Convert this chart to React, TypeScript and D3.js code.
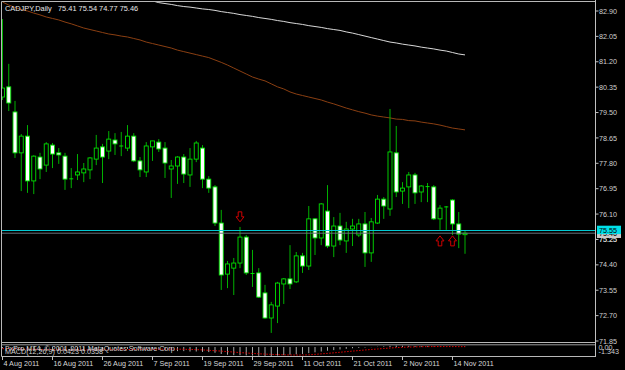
import React, { useEffect } from 'react';
import * as d3 from 'd3';

// ---------- data ----------
const symbolTitle = 'CADJPY,Daily';
const lastBar = '75.41 75.54 74.77 75.46';

const opens = [80.02, 80.36, 79.52, 78.15, 78.71, 77.21, 78.01, 77.74, 78.41, 78.15, 78.04, 77.27, 77.41, 77.48, 77.58, 77.94, 78.35, 78.21, 78.58, 78.38, 78.31, 78.71, 77.88, 77.51, 78.35, 78.51, 78.31, 77.61, 77.71, 78.01, 77.41, 77.94, 78.31, 77.27, 77.01, 75.80, 74.09, 74.29, 74.46, 75.33, 74.11, 74.13, 73.46, 72.62, 73.02, 73.76, 73.93, 73.83, 74.70, 74.36, 75.94, 75.30, 76.20, 75.03, 75.70, 75.20, 75.60, 75.40, 75.77, 74.80, 75.80, 76.60, 76.27, 78.15, 76.87, 77.01, 77.41, 76.84, 77.01, 77.01, 75.94, 76.30, 76.57, 75.77, 75.41];
const highs = [82.63, 81.13, 79.89, 78.78, 79.08, 78.07, 78.15, 78.51, 78.48, 78.31, 78.15, 77.64, 78.11, 77.81, 78.01, 78.75, 78.45, 78.88, 78.81, 78.85, 79.08, 78.81, 78.01, 78.51, 78.55, 78.61, 78.51, 77.91, 78.04, 78.11, 78.31, 78.55, 78.41, 77.37, 77.07, 76.24, 74.53, 74.63, 75.67, 75.40, 74.90, 74.29, 73.73, 73.16, 73.83, 73.96, 75.06, 74.83, 74.80, 76.37, 75.97, 76.47, 77.07, 76.00, 76.14, 75.84, 75.94, 75.94, 76.17, 75.97, 76.74, 76.67, 79.62, 79.05, 77.17, 77.51, 77.48, 77.07, 77.14, 77.07, 76.40, 76.37, 76.60, 76.17, 75.54];
const lows = [79.92, 79.55, 77.98, 76.87, 76.81, 76.77, 77.27, 77.51, 77.64, 77.78, 76.91, 76.97, 77.24, 77.17, 77.27, 77.74, 77.14, 77.94, 78.08, 78.04, 78.21, 77.84, 77.34, 77.34, 77.88, 78.18, 77.31, 76.64, 77.11, 77.14, 77.01, 77.84, 76.97, 76.81, 75.70, 73.56, 73.62, 73.39, 74.29, 74.06, 73.66, 73.29, 72.59, 72.12, 72.45, 73.09, 73.59, 73.79, 74.13, 74.23, 74.73, 75.06, 74.96, 74.66, 75.06, 74.80, 75.03, 75.33, 74.33, 74.50, 75.77, 75.94, 76.04, 76.67, 76.44, 76.30, 76.44, 76.50, 76.50, 75.90, 75.57, 75.57, 75.40, 74.96, 74.77];
const closes = [80.32, 79.82, 78.15, 78.71, 77.21, 78.04, 77.61, 78.45, 78.11, 78.08, 77.27, 77.28, 77.51, 77.61, 77.98, 78.31, 78.01, 78.61, 78.45, 78.38, 78.71, 77.88, 77.58, 78.38, 78.55, 78.28, 77.81, 77.71, 78.01, 77.44, 77.94, 78.48, 77.27, 76.97, 75.80, 74.06, 74.43, 74.46, 75.33, 74.13, 74.09, 73.32, 72.62, 73.06, 73.79, 73.93, 73.76, 74.70, 74.36, 75.94, 75.30, 76.44, 75.03, 75.70, 75.23, 75.60, 75.70, 75.77, 74.80, 75.84, 76.60, 76.37, 78.18, 76.84, 76.97, 77.41, 76.81, 77.04, 77.02, 75.94, 76.30, 76.34, 75.77, 75.43, 75.46];

// brown moving average, one value per bar
const maBrown = [83.20, 83.10, 83.02, 82.95, 82.90, 82.83, 82.77, 82.70, 82.65, 82.60, 82.53, 82.47, 82.40, 82.33, 82.28, 82.23, 82.18, 82.13, 82.10, 82.06, 82.03, 81.98, 81.93, 81.86, 81.81, 81.76, 81.71, 81.66, 81.59, 81.54, 81.49, 81.44, 81.39, 81.34, 81.26, 81.18, 81.09, 80.99, 80.89, 80.79, 80.69, 80.62, 80.56, 80.46, 80.36, 80.29, 80.19, 80.12, 80.07, 80.02, 79.97, 79.92, 79.85, 79.79, 79.72, 79.65, 79.59, 79.53, 79.48, 79.42, 79.38, 79.35, 79.32, 79.28, 79.27, 79.23, 79.22, 79.18, 79.15, 79.12, 79.08, 79.03, 78.98, 78.95, 78.92];
// white moving average, from bar 24 on (earlier part is above the window)
const maWhiteStart = 24;
const maWhite = [83.24, 83.18, 83.15, 83.12, 83.08, 83.05, 83.03, 83.00, 82.97, 82.95, 82.92, 82.88, 82.85, 82.82, 82.78, 82.75, 82.72, 82.68, 82.65, 82.62, 82.58, 82.55, 82.51, 82.48, 82.45, 82.41, 82.38, 82.35, 82.31, 82.28, 82.25, 82.20, 82.16, 82.11, 82.06, 82.01, 81.96, 81.91, 81.86, 81.83, 81.79, 81.76, 81.73, 81.69, 81.66, 81.63, 81.59, 81.56, 81.51, 81.46, 81.43];

const macdMain = [-0.15, -0.2, -0.3, -0.4, -0.45, -0.5, -0.5, -0.5, -0.48, -0.46, -0.45, -0.44, -0.42, -0.4, -0.38, -0.35, -0.32, -0.3, -0.28, -0.26, -0.24, -0.22, -0.22, -0.22, -0.3, -0.35, -0.4, -0.45, -0.5, -0.5, -0.55, -0.55, -0.6, -0.62, -0.7, -0.85, -0.95, -1.0, -1.0, -1.02, -1.05, -1.08, -1.1, -1.1, -1.05, -1.0, -0.95, -0.9, -0.85, -0.75, -0.65, -0.55, -0.45, -0.38, -0.3, -0.22, -0.15, -0.1, -0.06, -0.02, 0.03, 0.08, 0.15, 0.18, 0.16, 0.15, 0.12, 0.1, 0.08, 0.05, 0.04, 0.03, 0.04, 0.03, 0.04];
const macdSignal = [-0.2, -0.2, -0.22, -0.24, -0.26, -0.28, -0.3, -0.32, -0.33, -0.34, -0.35, -0.35, -0.35, -0.35, -0.35, -0.34, -0.34, -0.33, -0.33, -0.32, -0.31, -0.3, -0.29, -0.28, -0.27, -0.27, -0.26, -0.26, -0.26, -0.27, -0.3, -0.32, -0.35, -0.4, -0.45, -0.5, -0.56, -0.62, -0.68, -0.73, -0.78, -0.83, -0.87, -0.9, -0.93, -0.95, -0.97, -0.98, -0.98, -0.95, -0.9, -0.84, -0.78, -0.71, -0.64, -0.57, -0.5, -0.43, -0.36, -0.3, -0.24, -0.18, -0.12, -0.07, -0.03, 0, 0.02, 0.04, 0.05, 0.06, 0.06, 0.06, 0.06, 0.05, 0.05];

const priceTicks = [82.90, 82.05, 81.20, 80.35, 79.50, 78.65, 77.80, 76.95, 76.10, 75.25, 74.40, 73.55, 72.70, 71.85];
const dateLabels = ['4 Aug 2011', '16 Aug 2011', '26 Aug 2011', '7 Sep 2011', '19 Sep 2011', '29 Sep 2011', '11 Oct 2011', '21 Oct 2011', '2 Nov 2011', '14 Nov 2011'];
const dateLabelBars = [0, 8, 16, 24, 32, 40, 48, 56, 64, 72];

const hLinePrice = 75.55;
const bidPrice = 75.46;

const arrowBars = [38, 70, 72];
const arrowDirs = ['down', 'up', 'up'];
const arrowTipPrices = [75.84, 75.37, 75.37];

const copyrightText = 'FxPro MT4, \u00A9 2001-2011 MetaQuotes Software Corp';
const macdText = 'MACD(12,26,9) 0.0423 0.0358';
const subLabels = ['0.00', '-1.343'];

// ---------- layout ----------
const W = 625;
const H = 370;
const FONT = '"Liberation Sans", Arial, sans-serif';
const FS = 7.2;

export default function App() {
  useEffect(() => {
    document.body.style.margin = '0';
    document.body.style.background = '#000';
  }, []);

  const n = opens.length;
  const x = d3.scaleLinear().domain([0, n - 1]).range([2.5, 2.5 + 6.25 * (n - 1)]);
  const y = d3.scaleLinear().domain([71.85, 82.9]).range([341, 11]);
  const ySub = d3.scaleLinear().domain([-1.1, 0.25]).range([356, 345]);

  const brownLine = d3.line<number>().x((_, i) => x(i)).y((d) => y(d))(maBrown) || '';
  const whiteLine = d3.line<number>().x((_, i) => x(i + maWhiteStart)).y((d) => y(d))(maWhite) || '';
  const signalLine = d3.line<number>().x((_, i) => x(i)).y((d) => ySub(d))(macdSignal) || '';

  const axisX = 595.5;
  const bodyW = 4;

  const arrowPath = (dir: string) =>
    dir === 'down'
      ? 'M-1.8,-5 L-1.8,-10 L1.8,-10 L1.8,-5 L4,-5 L0,0 L-4,-5 Z'
      : 'M-1.8,5 L-1.8,10 L1.8,10 L1.8,5 L4,5 L0,0 L-4,5 Z';

  return (
    <svg width={W} height={H} style={{ position: 'fixed', left: 0, top: 0, background: '#000', display: 'block' }}>
      <defs>
        <clipPath id="mainClip">
          <rect x={1.5} y={2} width={axisX - 1.5} height={340.5} />
        </clipPath>
        <clipPath id="subClip">
          <rect x={2} y={345} width={axisX - 2} height={11.5} />
        </clipPath>
      </defs>
      <rect x={0} y={0} width={W} height={H} fill="#000" />

      {/* main window */}
      <g clipPath="url(#mainClip)">
        <path d={brownLine} fill="none" stroke="#8a3f12" strokeWidth={1} />
        <path d={whiteLine} fill="none" stroke="#d8d8d8" strokeWidth={1} />
        {opens.map((o, i) => {
          const c = closes[i];
          const cx = x(i);
          const top = y(Math.max(o, c));
          const bot = y(Math.min(o, c));
          const bear = c < o;
          const h = bot - top;
          return (
            <g key={i}>
              <line x1={cx} x2={cx} y1={y(highs[i])} y2={y(lows[i])} stroke="#00b000" strokeWidth={1} />
              {h < 1.2 ? (
                <line x1={cx - bodyW / 2} x2={cx + bodyW / 2} y1={top} y2={top} stroke="#00e000" strokeWidth={1} />
              ) : (
                <rect x={cx - bodyW / 2} y={top} width={bodyW} height={h} fill={bear ? '#ffffff' : '#000000'} stroke="#00e000" strokeWidth={0.9} />
              )}
            </g>
          );
        })}
        <line x1={2} x2={axisX} y1={y(bidPrice)} y2={y(bidPrice)} stroke="#66707a" strokeWidth={1} />
        <line x1={2} x2={axisX} y1={y(hLinePrice)} y2={y(hLinePrice)} stroke="#00c8d2" strokeWidth={1} />
        {arrowBars.map((b, k) => (
          <path key={k} d={arrowPath(arrowDirs[k])} transform={`translate(${x(b)},${y(arrowTipPrices[k])})`} fill="none" stroke="#d00000" strokeWidth={1} />
        ))}
      </g>

      {/* title */}
      <text x={5} y={10.5} fill="#e8e8e8" fontFamily={FONT} fontSize={7.4}>
        {symbolTitle}
      </text>
      <text x={58} y={10.5} fill="#e8e8e8" fontFamily={FONT} fontSize={7.4}>
        {lastBar}
      </text>

      {/* sub window (MACD) */}
      <g clipPath="url(#subClip)">
        {macdMain.map((v, i) => (
          <line key={i} x1={x(i)} x2={x(i)} y1={ySub(0)} y2={ySub(v)} stroke="#a8a8a8" strokeWidth={1} />
        ))}
        <path d={signalLine} fill="none" stroke="#e00000" strokeWidth={1} strokeDasharray="1.5,1.5" />
      </g>
      <text x={5} y={350.5} fill="#cfcfcf" fontFamily={FONT} fontSize={FS}>
        {copyrightText}
      </text>
      <text x={5} y={353.8} fill="#cfcfcf" fontFamily={FONT} fontSize={FS}>
        {macdText}
      </text>

      {/* frame */}
      <line x1={1.5} x2={1.5} y1={1.5} y2={356.5} stroke="#b8b8b8" strokeWidth={1} />
      <line x1={1.5} x2={axisX} y1={1.5} y2={1.5} stroke="#b8b8b8" strokeWidth={1} />
      <line x1={1.5} x2={axisX} y1={342.5} y2={342.5} stroke="#b8b8b8" strokeWidth={1} />
      <line x1={1.5} x2={axisX} y1={344.8} y2={344.8} stroke="#9a9a9a" strokeWidth={1} />
      <line x1={1.5} x2={axisX} y1={356.5} y2={356.5} stroke="#b8b8b8" strokeWidth={1} />
      <line x1={axisX} x2={axisX} y1={0} y2={357} stroke="#c0c0c0" strokeWidth={1} />

      {/* price axis */}
      {priceTicks.map((p, k) => (
        <g key={k}>
          <line x1={axisX} x2={axisX + 3} y1={y(p)} y2={y(p)} stroke="#c0c0c0" strokeWidth={1} />
          <text x={599} y={y(p) + 2.6} fill="#d0d0d0" fontFamily={FONT} fontSize={FS}>
            {p.toFixed(2)}
          </text>
        </g>
      ))}

      {/* bid label (partly hidden) and horizontal line label */}
      <rect x={597} y={y(bidPrice) - 4.8} width={24} height={9.6} fill="#c8c8c8" />
      <text x={599} y={y(bidPrice) + 2.6} fill="#000" fontFamily={FONT} fontSize={FS}>
        {bidPrice.toFixed(2)}
      </text>
      <rect x={597} y={y(hLinePrice) - 4.8} width={24} height={8.4} fill="#00e0e8" />
      <text x={599} y={y(hLinePrice) + 2.6} fill="#000" fontFamily={FONT} fontSize={FS}>
        {hLinePrice.toFixed(2)}
      </text>
      <text x={599} y={y(75.25) + 2.6} fill="#d0d0d0" fontFamily={FONT} fontSize={FS}>
        {(75.25).toFixed(2)}
      </text>

      {/* sub window labels */}
      <text x={598.5} y={349.6} fill="#d0d0d0" fontFamily={FONT} fontSize={FS}>
        {subLabels[0]}
      </text>
      <text x={598.5} y={353.6} fill="#d0d0d0" fontFamily={FONT} fontSize={FS}>
        {subLabels[1]}
      </text>

      {/* date axis */}
      {dateLabelBars.map((b, k) => (
        <g key={k}>
          <line x1={x(b)} x2={x(b)} y1={356.5} y2={360} stroke="#c0c0c0" strokeWidth={1} />
          <text x={x(b) + 1} y={366} fill="#d8d8d8" fontFamily={FONT} fontSize={FS}>
            {dateLabels[k]}
          </text>
        </g>
      ))}
    </svg>
  );
}
